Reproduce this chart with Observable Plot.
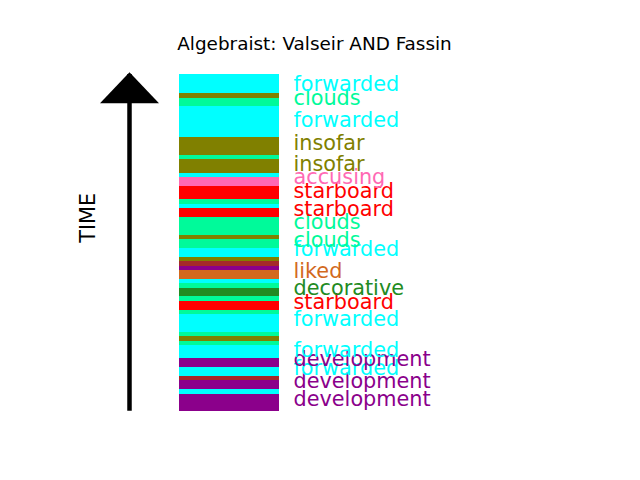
<!DOCTYPE html>
<html><head><meta charset="utf-8">
<script src="https://cdn.jsdelivr.net/npm/d3@7"></script>
<script src="https://cdn.jsdelivr.net/npm/@observablehq/plot@0.6"></script>
<style>body{margin:0;background:#fff;} svg{display:block}</style>
</head><body><div id="chart"></div>
<script>
const title = "Algebraist: Valseir AND Fassin";
const axisLabel = "TIME";

// band boundaries along the time axis (bottom = earliest)
const boundaries = [0, 16.7, 21.7, 30.7, 34.7, 44, 52.7, 66, 70, 74.7, 78.7, 96.7, 100.7, 110, 115, 123, 127.7, 131.7, 140.7, 144.7, 149.7, 153.7, 163, 171.7, 175.7, 194, 202.7, 206.7, 211.7, 225, 234, 238, 251.7, 255.7, 274, 305, 313, 318, 336.7];
// word of each band, bottom to top
const bandWords = ["development", "forwarded", "development", "other", "forwarded", "development", "forwarded", "clouds", "insofar", "clouds", "forwarded", "clouds", "starboard", "clouds", "decorative", "clouds", "forwarded", "liked", "development", "other", "insofar", "forwarded", "clouds", "insofar", "clouds", "starboard", "forwarded", "clouds", "starboard", "accusing", "forwarded", "insofar", "clouds", "insofar", "forwarded", "clouds", "insofar", "forwarded"];

// labels, bottom to top, with the time at which each is written
const labelWords = ["development", "development", "forwarded", "development", "forwarded", "forwarded", "starboard", "decorative", "liked", "forwarded", "clouds", "clouds", "starboard", "starboard", "accusing", "insofar", "insofar", "forwarded", "clouds", "forwarded"];
const labelTimes = [8.35, 26.2, 39.35, 48.35, 57.35, 87.7, 105.35, 119, 136.2, 158.35, 167.35, 184.85, 198.35, 216.35, 229.5, 242.85, 264, 286.5, 309, 323.35];

const words = ["forwarded", "clouds", "insofar", "accusing", "starboard", "liked", "decorative", "development", "other"];
const wordColors = ["#00ffff", "#00fa9a", "#808000", "#ff69b4", "#ff0000", "#d2691e", "#228b22", "#8b008b", "#a52a2a"];

const bands = bandWords.map((w, i) => ({word: w, start: boundaries[i], end: boundaries[i + 1]}));
const labels = labelWords.map((w, i) => ({word: w, t: labelTimes[i]}));
const tMax = d3.max(boundaries);

const plot = Plot.plot({
  width: 640, height: 480,
  marginTop: 74, marginBottom: 69.3, marginLeft: 179, marginRight: 361,
  x: {domain: [0, 1], axis: null},
  y: {domain: [0, tMax], axis: null},
  color: {domain: words, range: wordColors},
  style: {fontFamily: "DejaVu Sans", background: "white", overflow: "visible"},
  marks: [
    Plot.rect(bands, {x1: () => 0, x2: () => 1, y1: "start", y2: "end", fill: "word", shapeRendering: "crispEdges"}),
    Plot.text(labels, {
      x: () => 1, y: "t", text: "word", fill: "word",
      textAnchor: "start", lineAnchor: "middle", dx: 14, dy: -4, fontSize: 20.8
    }),
    Plot.ruleX([0], {dx: -50, y1: () => 0, y2: () => tMax, strokeWidth: 4.5, stroke: "black"}),
    Plot.vector([tMax], {x: () => 0, y: d => d, dx: -50, dy: 28.7, length: 31, r: 29.5, shape: "spike", anchor: "start", fill: "black", stroke: "none"}),
    Plot.text([axisLabel], {frameAnchor: "left", textAnchor: "middle", lineAnchor: "middle", text: d => d, rotate: -90, dx: -91, dy: -25, fontSize: 20.8, fill: "black"}),
    Plot.text([title], {frameAnchor: "top", textAnchor: "middle", lineAnchor: "middle", text: d => d, dx: 85, dy: -30.3, fontSize: 18.4, fill: "black"})
  ]
});
document.getElementById("chart").appendChild(plot);
</script>
</body></html>
